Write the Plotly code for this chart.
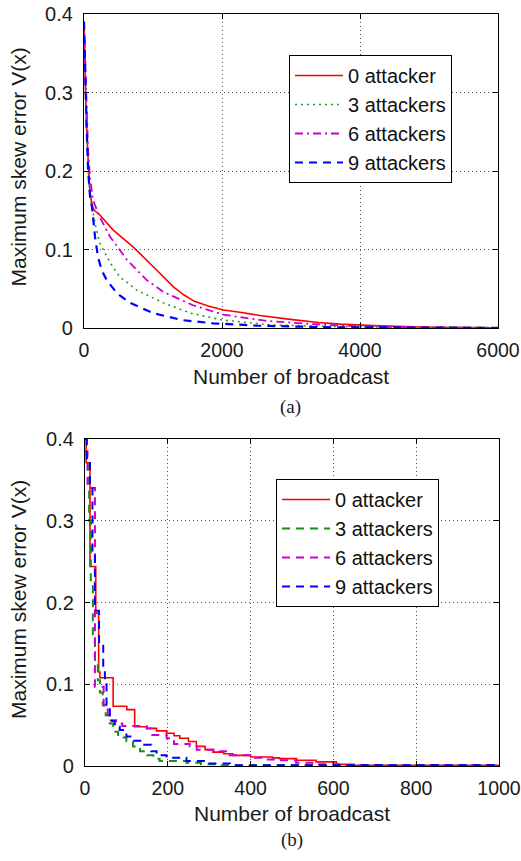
import plotly.graph_objects as go

W, H = 521, 861

# ---------------- data: (a) ----------------
labels = ["0 attacker", "3 attackers", "6 attackers", "9 attackers"]

a_x0 = [0, 10, 25, 40, 60, 80, 100, 130, 160, 230, 420, 715, 1005, 1150, 1300, 1450, 1600, 1800, 2020, 2260, 2550, 2990, 3400, 3710, 4190, 5000, 6000]
a_y0 = [0.39, 0.34, 0.29, 0.25, 0.205, 0.18, 0.165, 0.153, 0.149, 0.144, 0.125, 0.103, 0.078, 0.065, 0.052, 0.042, 0.034, 0.028, 0.023, 0.020, 0.016, 0.011, 0.007, 0.005, 0.003, 0.001, 0.0004]

a_x3 = [0, 20, 40, 60, 90, 130, 160, 230, 380, 520, 770, 1150, 1540, 2020, 2700, 3500, 4500, 6000]
a_y3 = [0.39, 0.31, 0.25, 0.20, 0.165, 0.148, 0.133, 0.108, 0.083, 0.065, 0.048, 0.032, 0.019, 0.010, 0.004, 0.002, 0.0007, 0.0002]

a_x6 = [0, 20, 40, 60, 90, 130, 230, 380, 620, 910, 1150, 1580, 2020, 2650, 3300, 4000, 5000, 6000]
a_y6 = [0.39, 0.33, 0.27, 0.225, 0.19, 0.163, 0.141, 0.116, 0.087, 0.061, 0.046, 0.029, 0.017, 0.009, 0.005, 0.002, 0.0008, 0.0002]

a_x9 = [0, 20, 40, 60, 90, 116, 140, 160, 203, 260, 330, 480, 670, 1000, 1430, 1870, 2500, 3500, 6000]
a_y9 = [0.39, 0.31, 0.25, 0.20, 0.165, 0.154, 0.130, 0.116, 0.090, 0.073, 0.061, 0.044, 0.032, 0.019, 0.010, 0.006, 0.003, 0.001, 0.0002]

# ---------------- data: (b) (step curves) ----------------
b_x0 = [0, 3, 12, 26, 33, 36, 68, 101, 120, 149, 173, 197, 215, 229, 250, 269, 290, 309, 335, 357, 400, 453, 470, 511, 558, 607, 650, 1000]
b_y0 = [0.40, 0.371, 0.244, 0.187, 0.115, 0.108, 0.073, 0.069, 0.048, 0.046, 0.043, 0.040, 0.037, 0.034, 0.030, 0.024, 0.020, 0.017, 0.015, 0.013, 0.011, 0.010, 0.009, 0.007, 0.005, 0.002, 0.001, 0.001]

b_x3 = [0, 5, 10, 14, 19, 24, 31, 36, 43, 50, 60, 68, 80, 100, 116, 133, 150, 165, 180, 245, 280, 320, 1000]
b_y3 = [0.40, 0.37, 0.30, 0.22, 0.16, 0.125, 0.105, 0.09, 0.075, 0.062, 0.052, 0.042, 0.035, 0.030, 0.024, 0.018, 0.013, 0.009, 0.006, 0.004, 0.002, 0.001, 0.0005]

b_x6 = [0, 6, 24, 45, 55, 62, 75, 90, 149, 160, 197, 215, 253, 270, 325, 349, 410, 437, 470, 510, 560, 620, 1000]
b_y6 = [0.385, 0.34, 0.097, 0.069, 0.062, 0.056, 0.052, 0.049, 0.046, 0.038, 0.034, 0.027, 0.024, 0.020, 0.018, 0.013, 0.010, 0.008, 0.007, 0.004, 0.002, 0.001, 0.0005]

b_x9 = [0, 4, 12, 18, 24, 34, 44, 48, 52, 60, 72, 84, 100, 116, 140, 160, 173, 197, 245, 293, 350, 1000]
b_y9 = [0.40, 0.375, 0.34, 0.26, 0.19, 0.15, 0.12, 0.10, 0.072, 0.055, 0.048, 0.044, 0.036, 0.031, 0.026, 0.018, 0.013, 0.010, 0.006, 0.003, 0.001, 0.0005]

a_xticks = [0, 2000, 4000, 6000]
b_xticks = [0, 200, 400, 600, 800, 1000]
yticks = [0, 0.1, 0.2, 0.3, 0.4]

FONT = "Liberation Sans, Arial, sans-serif"

fig = go.Figure()

a_styles = [
    dict(color="#ff0000", width=1.6, dash="solid"),
    dict(color="#2e9a2e", width=1.6, dash="2px,4px"),
    dict(color="#c800c8", width=1.8, dash="8px,4px,2px,4px"),
    dict(color="#0000ff", width=2.2, dash="8px,6px"),
]
b_styles = [
    dict(color="#ff0000", width=1.6, dash="solid"),
    dict(color="#1a8c1a", width=2.0, dash="8px,6px"),
    dict(color="#cc00cc", width=2.0, dash="8px,6px"),
    dict(color="#0000ff", width=2.0, dash="8px,6px"),
]

for lab, xs, ys, st in zip(labels, [a_x0, a_x3, a_x6, a_x9], [a_y0, a_y3, a_y6, a_y9], a_styles):
    fig.add_trace(go.Scatter(x=xs, y=ys, mode="lines", name=lab, line=st,
                             xaxis="x", yaxis="y", legend="legend"))

for lab, xs, ys, st in zip(labels, [b_x0, b_x3, b_x6, b_x9], [b_y0, b_y3, b_y6, b_y9], b_styles):
    fig.add_trace(go.Scatter(x=xs, y=ys, mode="lines", name=lab, line=dict(shape="hv", **st),
                             xaxis="x2", yaxis="y2", legend="legend2"))

def px(x):
    return x / W

def py(y):
    return 1 - y / H

axis_common = dict(
    automargin=False,
    showline=True, linecolor="black", linewidth=1.2, mirror="ticks",
    ticks="inside", ticklen=5, tickwidth=1, tickcolor="black",
    showgrid=True, gridcolor="#555555", gridwidth=1, griddash="1px,3px",
    zeroline=False,
    ticklabeloverflow="allow",
)
xfont = dict(family=FONT, size=19.5, color="#1a1a1a")
yfont = dict(family=FONT, size=20, color="#1a1a1a")

legend_common = dict(
    xanchor="left", yanchor="top",
    bgcolor="white", bordercolor="black", borderwidth=1,
    itemwidth=48,
    font=dict(family=FONT, size=20, color="#111"),
)

fig.update_layout(
    template="none",
    width=W, height=H,
    margin=dict(l=0, r=0, t=0, b=0, pad=0),
    paper_bgcolor="white", plot_bgcolor="white",
    xaxis=dict(domain=[px(84), px(498)], range=[0, 6000], tickvals=a_xticks,
               anchor="y", ticklabelstandoff=4, tickfont=xfont, **axis_common),
    yaxis=dict(domain=[py(328), py(14)], range=[0, 0.4], tickvals=yticks,
               anchor="x", ticklabelstandoff=6, tickfont=yfont, **axis_common),
    xaxis2=dict(domain=[px(85), px(499)], range=[0, 1000], tickvals=b_xticks,
                anchor="y2", ticklabelstandoff=4, tickfont=xfont, **axis_common),
    yaxis2=dict(domain=[py(766), py(439)], range=[0, 0.4], tickvals=yticks,
                anchor="x2", ticklabelstandoff=6, tickfont=yfont, **axis_common),
    legend=dict(x=px(289), y=py(55), **legend_common),
    legend2=dict(x=px(276), y=py(479), **legend_common),
    showlegend=True,
)

ann_font = dict(family=FONT, size=21, color="#1a1a1a")
serif = dict(family="Liberation Serif, Times New Roman, serif", size=19, color="#1a1a1a")
fig.add_annotation(text="Maximum skew error V(x)", x=px(18), y=py(167.5), xref="paper", yref="paper",
                   textangle=-90, showarrow=False, font=ann_font, xanchor="center", yanchor="middle")
fig.add_annotation(text="Number of broadcast", x=px(291), y=py(377), xref="paper", yref="paper",
                   showarrow=False, font=ann_font, xanchor="center", yanchor="middle")
fig.add_annotation(text="(a)", x=px(290), y=py(407), xref="paper", yref="paper",
                   showarrow=False, font=serif, xanchor="center", yanchor="middle")
fig.add_annotation(text="Maximum skew error V(x)", x=px(18), y=py(600), xref="paper", yref="paper",
                   textangle=-90, showarrow=False, font=ann_font, xanchor="center", yanchor="middle")
fig.add_annotation(text="Number of broadcast", x=px(292), y=py(813), xref="paper", yref="paper",
                   showarrow=False, font=ann_font, xanchor="center", yanchor="middle")
fig.add_annotation(text="(b)", x=px(292), y=py(840), xref="paper", yref="paper",
                   showarrow=False, font=serif, xanchor="center", yanchor="middle")

fig.write_html("out.html", config={"displayModeBar": False},
               post_script="document.body.style.margin='0px';")
